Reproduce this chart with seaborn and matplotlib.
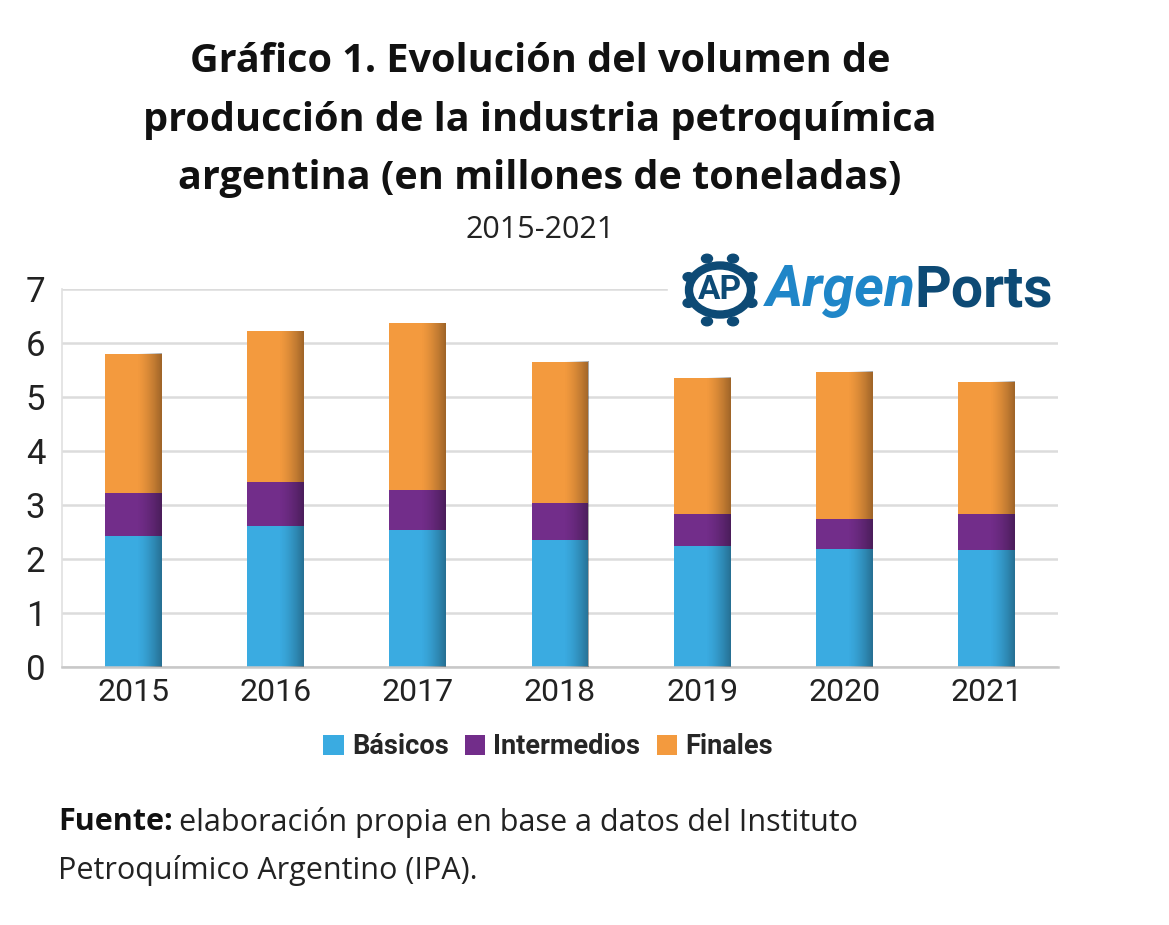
import numpy as np
import pandas as pd
import seaborn as sns
import matplotlib.pyplot as plt
from matplotlib.patches import Circle, Rectangle, Patch

years = ["2015", "2016", "2017", "2018", "2019", "2020", "2021"]
basicos = [2.43, 2.61, 2.54, 2.36, 2.24, 2.18, 2.16]
intermedios = [0.80, 0.81, 0.74, 0.68, 0.59, 0.57, 0.67]
finales = [2.57, 2.80, 3.09, 2.61, 2.53, 2.72, 2.45]
series_names = ["Básicos", "Intermedios", "Finales"]
series_colors = ["#3aabe1", "#722d8a", "#f39a3e"]
y_ticks = [0, 1, 2, 3, 4, 5, 6, 7]

sns.set_theme(style="white")
narrow = ['Roboto', 'DejaVu Sans']
plt.rcParams['font.family'] = narrow

df = pd.DataFrame({"Año": years, "b": basicos, "i": intermedios, "f": finales})
df["bi"] = df["b"] + df["i"]
df["total"] = df["bi"] + df["f"]

W, H = 1169, 925
fig = plt.figure(figsize=(W / 100, H / 100), dpi=100)
ax = fig.add_axes([62 / W, 1 - 667 / H, 996 / W, (667 - 289) / H])

# stacked bars: draw cumulative heights, tallest first
for col, c in zip(["total", "bi", "b"], series_colors[::-1]):
    sns.barplot(data=df, x="Año", y=col, color=c, width=0.4, saturation=1,
                linewidth=0, ax=ax, zorder=2)

# dark shading on the right side of every bar
grad = np.zeros((1, 100, 4))
xs = np.linspace(0, 1, 100)
grad[0, :, 3] = np.clip((xs - 0.55) / 0.45, 0, 1) ** 1.5 * 0.35
for k, tot in enumerate(df["total"]):
    ax.imshow(grad, extent=[k - 0.2, k + 0.2, 0, tot], aspect="auto",
              zorder=3, interpolation="bilinear")

ax.set_xlim(-0.5, 6.5)
ax.set_ylim(0, 7)
ax.set_yticks(y_ticks)
ax.set_yticklabels([str(t) for t in y_ticks], fontsize=25, color="#222222")
ax.tick_params(axis="x", labelsize=23, colors="#222222", length=0, pad=8)
ax.tick_params(axis="y", length=0, pad=12)
ax.set_xticks(np.arange(-0.5, 7, 1), minor=True)
ax.tick_params(axis="x", which="minor", length=7, color="#c8c8c8", width=1.2,
               direction="out")
ax.set_xlabel("")
ax.set_ylabel("")
ax.grid(axis="y", color="#dcdcdc", linewidth=1.8, zorder=0)
ax.set_axisbelow(True)
for s in ["top", "right"]:
    ax.spines[s].set_visible(False)
ax.spines["left"].set_color("#e0e0e0")
ax.spines["left"].set_linewidth(1.2)
ax.spines["bottom"].set_color("#c8c8c8")
ax.spines["bottom"].set_linewidth(1.8)

# title
title_font = ['Open Sans', 'DejaVu Sans']
for txt, y in [("Gráfico 1. Evolución del volumen de", 62),
               ("producción de la industria petroquímica", 121),
               ("argentina (en millones de toneladas)", 179)]:
    fig.text(540 / W, 1 - y / H, txt, ha="center", va="center", fontsize=28.5,
             fontweight="bold", family=title_font, color="#111111")
fig.text(540 / W, 1 - 230 / H, "2015-2021", ha="center", va="center",
         fontsize=22, family=title_font, color="#222222")

renderer = fig.canvas.get_renderer()

# logo
fig.patches.append(Rectangle((668 / W, 1 - 332 / H), 392 / W, 88 / H,
                             transform=fig.transFigure, color="white", zorder=5))
cx, cy, r = 720, 290, 31
fig.patches.append(Circle((cx / W, 1 - cy / H), r / W, transform=fig.transFigure,
                          fill=False, ec="#0d4a75", lw=6, zorder=6))
for a in np.linspace(0, 2 * np.pi, 8, endpoint=False) + np.pi / 8:
    px = cx + (r + 3) * np.cos(a)
    py = cy + (r + 3) * np.sin(a)
    fig.patches.append(Circle((px / W, 1 - py / H), 5.5 / W,
                              transform=fig.transFigure, color="#0d4a75", zorder=7))
fig.text(cx / W, 1 - cy / H, "AP", ha="center", va="center", fontsize=24,
         fontweight="bold", color="#0d4a75", zorder=8)
t1 = fig.text(766 / W, 1 - 291 / H, "Argen", ha="left", va="center", fontsize=41,
              fontweight="bold", style="italic", color="#1f86c8", zorder=8)
bb = t1.get_window_extent(renderer)
fig.text(bb.x1 / W - 2 / W, 1 - 291 / H, "Ports", ha="left", va="center",
         fontsize=41, fontweight="bold", color="#0d4a75", zorder=8)

# legend
handles = [Patch(facecolor=c, edgecolor="none", label=n)
           for n, c in zip(series_names, series_colors)]
fig.legend(handles=handles, ncol=3, loc="center",
           bbox_to_anchor=(548 / W, 1 - 747 / H), frameon=False,
           handlelength=0.75, handleheight=0.75, handletextpad=0.3,
           columnspacing=0.6, prop=dict(weight="bold", size=19.5))

# source
src_font = ['Open Sans', 'DejaVu Sans']
t = fig.text(58 / W, 1 - 822 / H, "Fuente:", ha="left", va="center",
             fontsize=22, fontweight="bold", family=src_font, color="#111111")
bb = t.get_window_extent(renderer)
fig.text(bb.x1 / W + 6 / W, 1 - 822 / H,
         "elaboración propia en base a datos del Instituto",
         ha="left", va="center", fontsize=22, family=src_font, color="#222222")
fig.text(58 / W, 1 - 870 / H, "Petroquímico Argentino (IPA).", ha="left",
         va="center", fontsize=22, family=src_font, color="#222222")

fig.savefig("out.png", dpi=100, facecolor="white")
